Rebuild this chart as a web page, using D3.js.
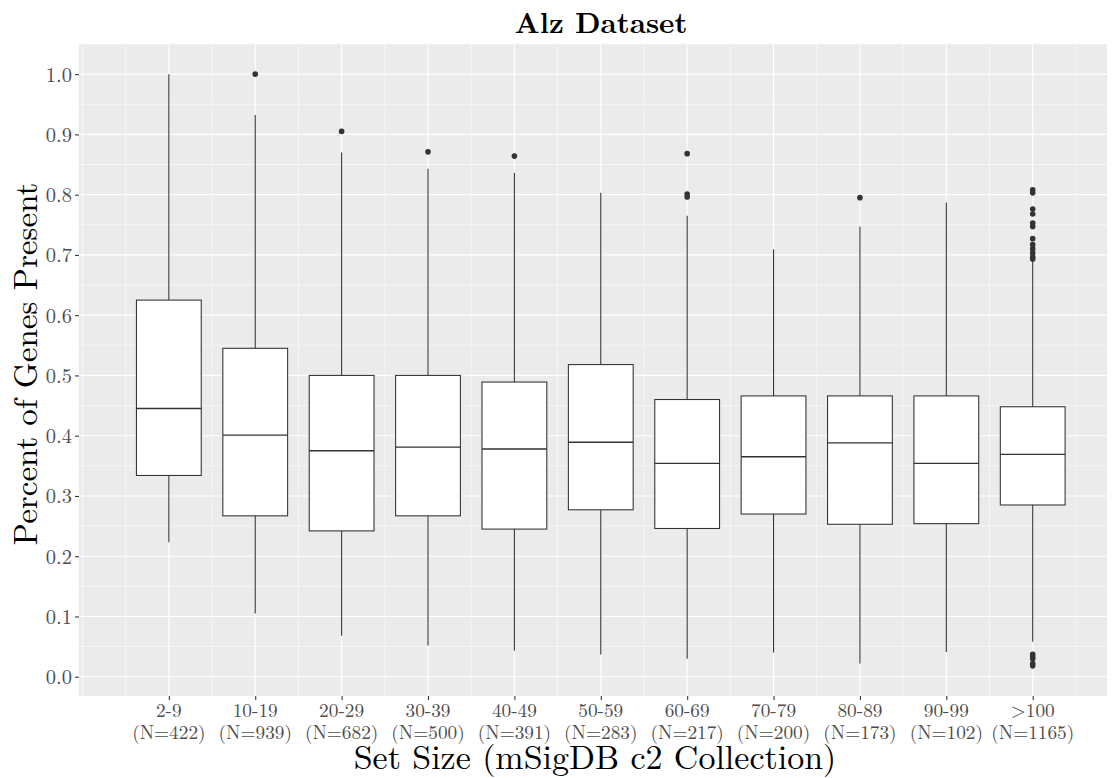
<!DOCTYPE html>
<html>
<head>
<meta charset="utf-8">
<script src="https://cdn.jsdelivr.net/npm/d3@7"></script>
<style>
  html, body { margin: 0; padding: 0; background: #ffffff; }
  svg { display: block; }
  text { font-family: "Latin Modern Roman", "CMU Serif", "Liberation Serif", serif; }
</style>
</head>
<body>
<svg id="chart" width="1114" height="778"></svg>
<script>
// Set-size bins (mSigDB c2) and number of gene sets in each
const categories = ["2-9", "10-19", "20-29", "30-39", "40-49", "50-59", "60-69", "70-79", "80-89", "90-99", ">100"];
const counts = [422, 939, 682, 500, 391, 283, 217, 200, 173, 102, 1165];

// Box-plot summaries: fraction of genes present per set
const q1 =          [0.334, 0.267, 0.242, 0.267, 0.245, 0.277, 0.246, 0.270, 0.253, 0.254, 0.285];
const medians =     [0.445, 0.401, 0.375, 0.381, 0.378, 0.389, 0.354, 0.365, 0.388, 0.354, 0.369];
const q3 =          [0.625, 0.545, 0.500, 0.500, 0.489, 0.518, 0.460, 0.466, 0.466, 0.466, 0.448];
const whiskerLow =  [0.223, 0.105, 0.068, 0.052, 0.043, 0.037, 0.030, 0.040, 0.022, 0.041, 0.058];
const whiskerHigh = [1.000, 0.932, 0.870, 0.843, 0.836, 0.803, 0.765, 0.709, 0.747, 0.787, 0.689];
const outliers = [
  [],
  [1.000],
  [0.905],
  [0.871],
  [0.864],
  [],
  [0.868, 0.801, 0.796],
  [],
  [0.795],
  [],
  [0.808, 0.803, 0.776, 0.768, 0.753, 0.747, 0.727, 0.717, 0.710, 0.703, 0.697, 0.693,
   0.037, 0.033, 0.030, 0.022, 0.018]
];

const yTicks = [0.0, 0.1, 0.2, 0.3, 0.4, 0.5, 0.6, 0.7, 0.8, 0.9, 1.0];

const svg = d3.select("#chart");
const panel = { left: 79, right: 1107, top: 44, bottom: 696 };

const x = d3.scaleLinear().domain([-0.04, 11.86]).range([panel.left, panel.right]);
const y = d3.scaleLinear().domain([-0.032, 1.05]).range([panel.bottom, panel.top]);

// panel background
svg.append("rect")
  .attr("x", panel.left).attr("y", panel.top)
  .attr("width", panel.right - panel.left).attr("height", panel.bottom - panel.top)
  .attr("fill", "#EBEBEB");

const grid = svg.append("g");
const xPos = categories.map((c, i) => i + 1);
const xMinor = d3.range(0, 12, 0.5).filter(v => !Number.isInteger(v) || v === 0);
const yMinor = d3.range(0.05, 1.05, 0.1).concat([1.05]);

grid.selectAll(".ymin").data(yMinor).join("line")
  .attr("x1", panel.left).attr("x2", panel.right)
  .attr("y1", d => y(d)).attr("y2", d => y(d))
  .attr("stroke", "#fff").attr("stroke-width", 0.55);
grid.selectAll(".xmin").data(xMinor).join("line")
  .attr("y1", panel.top).attr("y2", panel.bottom)
  .attr("x1", d => x(d)).attr("x2", d => x(d))
  .attr("stroke", "#fff").attr("stroke-width", 0.55);
grid.selectAll(".ymaj").data(yTicks).join("line")
  .attr("x1", panel.left).attr("x2", panel.right)
  .attr("y1", d => y(d)).attr("y2", d => y(d))
  .attr("stroke", "#fff").attr("stroke-width", 1.1);
grid.selectAll(".xmaj").data(xPos).join("line")
  .attr("y1", panel.top).attr("y2", panel.bottom)
  .attr("x1", d => x(d)).attr("x2", d => x(d))
  .attr("stroke", "#fff").attr("stroke-width", 1.1);

// boxes
const boxW = x(0.75) - x(0);
const lineCol = "#333333";
const boxes = svg.append("g");
categories.forEach((c, i) => {
  const cx = x(i + 1);
  const g = boxes.append("g");
  g.append("line").attr("x1", cx).attr("x2", cx)
    .attr("y1", y(q3[i])).attr("y2", y(whiskerHigh[i]))
    .attr("stroke", lineCol).attr("stroke-width", 1.07);
  g.append("line").attr("x1", cx).attr("x2", cx)
    .attr("y1", y(q1[i])).attr("y2", y(whiskerLow[i]))
    .attr("stroke", lineCol).attr("stroke-width", 1.07);
  g.append("rect")
    .attr("x", cx - boxW / 2).attr("width", boxW)
    .attr("y", y(q3[i])).attr("height", y(q1[i]) - y(q3[i]))
    .attr("fill", "#fff").attr("stroke", lineCol).attr("stroke-width", 1.07);
  g.append("line").attr("x1", cx - boxW / 2).attr("x2", cx + boxW / 2)
    .attr("y1", y(medians[i])).attr("y2", y(medians[i]))
    .attr("stroke", lineCol).attr("stroke-width", 1.4);
  g.selectAll("circle").data(outliers[i]).join("circle")
    .attr("cx", cx).attr("cy", d => y(d)).attr("r", 2.8)
    .attr("fill", lineCol);
});

// y axis
const yAxis = svg.append("g")
  .attr("transform", `translate(${panel.left},0)`)
  .call(d3.axisLeft(y).tickValues(yTicks).tickFormat(d3.format(".1f")).tickSize(4).tickPadding(3));
yAxis.select(".domain").remove();
yAxis.selectAll(".tick line").attr("stroke", lineCol).attr("stroke-width", 1.07);
yAxis.selectAll(".tick text")
  .attr("fill", "#4D4D4D").style("font-size", "20.5px")
  .style("font-family", '"Latin Modern Roman", "CMU Serif", "Liberation Serif", serif')
  .attr("dy", "0.34em");

// x axis
const xAxis = svg.append("g")
  .attr("transform", `translate(0,${panel.bottom})`)
  .call(d3.axisBottom(x).tickValues(xPos).tickFormat("").tickSize(4));
xAxis.select(".domain").remove();
xAxis.selectAll(".tick line").attr("stroke", lineCol).attr("stroke-width", 1.07);

// two-line category labels: bin name and set count
const xLab = svg.append("g")
  .attr("fill", "#4D4D4D").attr("text-anchor", "middle").style("font-size", "19.3px");
xLab.selectAll(".bin").data(categories).join("text")
  .attr("x", (d, i) => x(i + 1)).attr("y", 717).text(d => d);
xLab.selectAll(".n").data(counts).join("text")
  .attr("x", (d, i) => x(i + 1)).attr("y", 739).text(d => `(N=${d})`);

// titles
svg.append("text")
  .attr("x", 601).attr("y", 33).attr("text-anchor", "middle")
  .style("font-size", "29px").style("font-weight", "bold").attr("fill", "#000")
  .text("Alz Dataset");

svg.append("text")
  .attr("x", 595).attr("y", 769).attr("text-anchor", "middle")
  .style("font-size", "34px").attr("fill", "#000")
  .text("Set Size (mSigDB c2 Collection)");

svg.append("text")
  .attr("transform", `translate(37,${(panel.top + panel.bottom) / 2 - 6}) rotate(-90)`)
  .attr("text-anchor", "middle")
  .style("font-size", "33px").attr("fill", "#000")
  .text("Percent of Genes Present");
</script>
</body>
</html>
